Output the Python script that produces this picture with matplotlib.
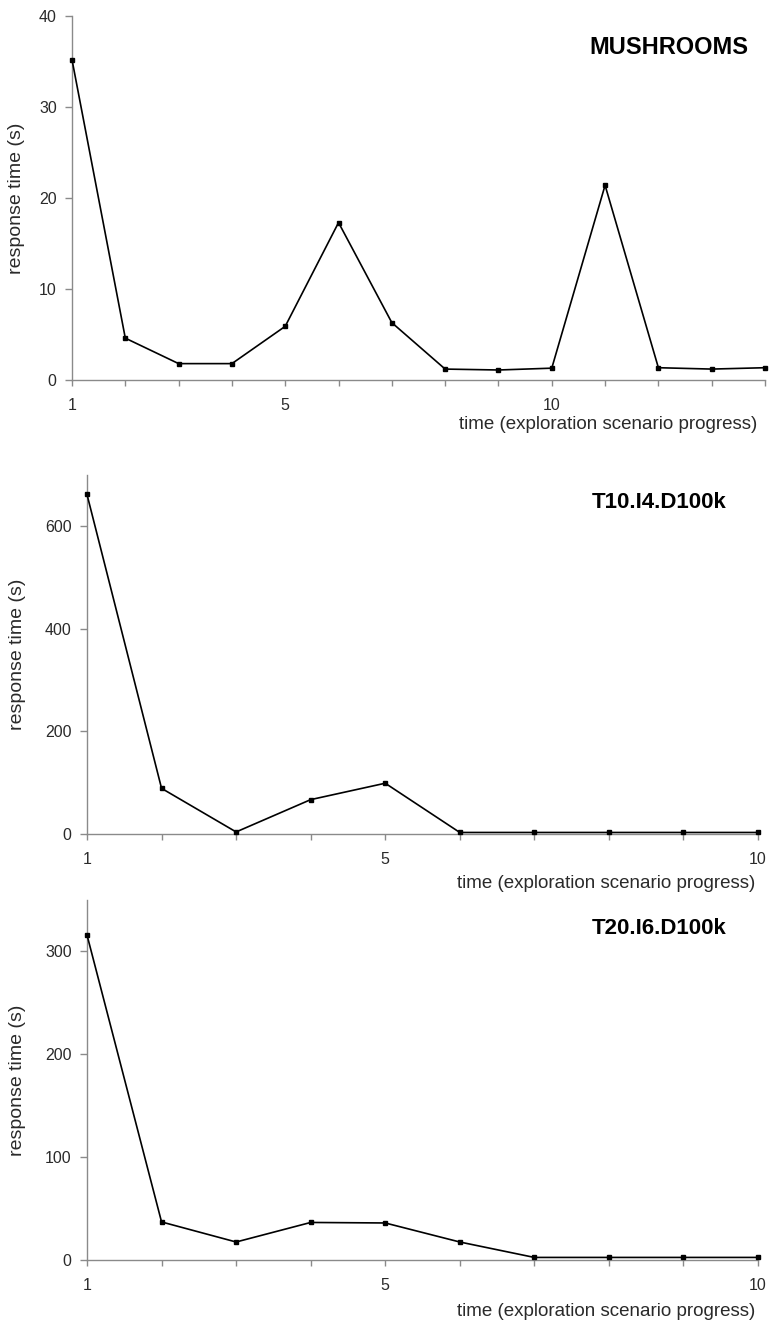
import matplotlib
matplotlib.use("Agg")
import matplotlib.pyplot as plt

# response times
mush_t = list(range(1, 15))
mush_rt = [35.2, 4.6, 1.8, 1.8, 5.9, 17.3, 6.3, 1.2, 1.1, 1.3, 21.4, 1.35, 1.2, 1.35]

t10_t = list(range(1, 11))
t10_rt = [662, 89, 4, 67, 99, 3, 3, 3, 3, 3]

t20_t = list(range(1, 11))
t20_rt = [316, 37, 17.5, 36.5, 36, 17.5, 2.5, 2.5, 2.5, 2.5]

W, H = 769, 1325
plt.rcParams["font.family"] = ["Liberation Sans", "DejaVu Sans"]

fig = plt.figure(figsize=(W / 100, H / 100), dpi=100)


def px_axes(left, right, top, bottom):
    return fig.add_axes([left / W, 1 - bottom / H, (right - left) / W, (bottom - top) / H])


def style(ax, xmax, ymax, yticks, ylab_x):
    ax.set_xlim(1, xmax); ax.set_ylim(0, ymax)
    ax.set_xticks(range(1, xmax + 1))
    ax.set_xticklabels([str(i) if i in (1, 5, 10) else "" for i in range(1, xmax + 1)])
    ax.set_yticks(yticks)
    for s in ("top", "right"):
        ax.spines[s].set_visible(False)
    for s in ("left", "bottom"):
        ax.spines[s].set_color("#8a8a8a"); ax.spines[s].set_linewidth(1.0)
    ax.tick_params(axis="x", direction="out", length=4, width=1, color="#8a8a8a",
                   labelsize=11.5, labelcolor="#2a2a2a", pad=9)
    ax.tick_params(axis="y", direction="out", length=5, width=1, color="#8a8a8a",
                   labelsize=11.5, labelcolor="#2a2a2a", pad=6)
    ax.set_ylabel("response time (s)", fontsize=14, color="#2a2a2a")
    ax.yaxis.set_label_coords(ylab_x, 0.5)


def draw(ax, x, y):
    ax.plot(x, y, "-", color="black", lw=1.2, marker="s", ms=3.5, mfc="black", mec="black",
            clip_on=False, zorder=3)


def xlab(x, y):
    fig.text(x / W, 1 - y / H, "time (exploration scenario progress)", ha="right", va="center",
             fontsize=13.5, color="#2a2a2a")


ax1 = px_axes(72, 765, 16, 380)
draw(ax1, mush_t, mush_rt)
style(ax1, 14, 40, [0, 10, 20, 30, 40], -0.068)
fig.text(748 / W, 1 - 47 / H, "MUSHROOMS", ha="right", va="center", fontsize=17, fontweight="bold")
xlab(757, 424)

ax2 = px_axes(87, 758, 475, 834)
draw(ax2, t10_t, t10_rt)
style(ax2, 10, 700, [0, 200, 400, 600], -0.091)
fig.text(726 / W, 1 - 503 / H, "T10.I4.D100k", ha="right", va="center", fontsize=16, fontweight="bold")
xlab(755, 884)

ax3 = px_axes(87, 758, 900, 1260)
draw(ax3, t20_t, t20_rt)
style(ax3, 10, 350, [0, 100, 200, 300], -0.091)
fig.text(726 / W, 1 - 928 / H, "T20.I6.D100k", ha="right", va="center", fontsize=16, fontweight="bold")
xlab(755, 1311)

fig.savefig("out.png", dpi=100)
